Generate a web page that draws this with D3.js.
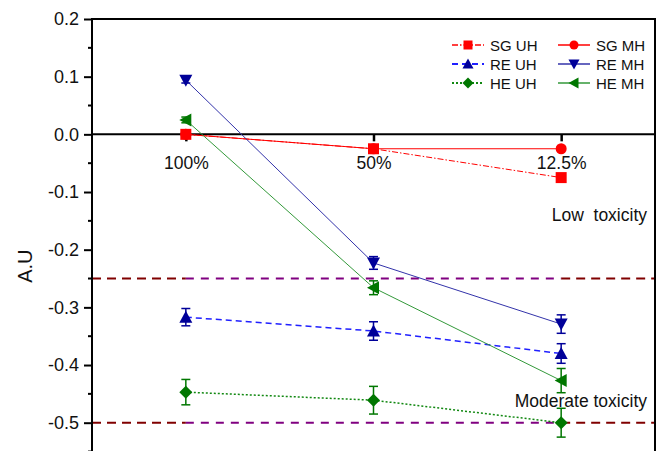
<!DOCTYPE html>
<html>
<head>
<meta charset="utf-8">
<script src="https://cdn.jsdelivr.net/npm/d3@7"></script>
<style>
  html, body { margin: 0; padding: 0; background: #fff; }
  svg { display: block; font-family: Arial, "Liberation Sans", sans-serif; }
</style>
</head>
<body>
<svg id="chart" width="664" height="451"></svg>
<script>
// Dilution levels on the x axis
const categories = ["100%", "50%", "12.5%"];

// Mean responses (A.U) and their error half-widths
const sgUH = [0.0, -0.025, -0.075];
const sgUHErr = [0, 0, 0];
const sgMH = [0.0, -0.025, -0.025];
const sgMHErr = [0, 0, 0];
const reUH = [-0.317, -0.341, -0.380];
const reUHErr = [0.015, 0.016, 0.017];
const reMH = [0.094, -0.223, -0.329];
const reMHErr = [0.005, 0.011, 0.016];
const heUH = [-0.447, -0.461, -0.500];
const heUHErr = [0.022, 0.024, 0.025];
const heMH = [0.025, -0.266, -0.427];
const heMHErr = [0.005, 0.012, 0.021];

// Axis ticks and toxicity thresholds
const yTicks = [0.2, 0.1, 0.0, -0.1, -0.2, -0.3, -0.4, -0.5];
const yMinorTicks = [0.15, 0.05, -0.05, -0.15, -0.25, -0.35, -0.45, -0.55];
const thresholds = [-0.25, -0.5];
const zoneLabels = ["Low  toxicity", "Moderate toxicity"];
const zoneLabelValues = [-0.151, -0.472];

const series = [
  { name: "SG UH", values: sgUH, err: sgUHErr, line: "#ff0000", mark: "#ff0000", dash: "6,2,1.5,2", width: 1, symbol: "square" },
  { name: "SG MH", values: sgMH, err: sgMHErr, line: "#ff0000", mark: "#ff0000", dash: null, width: 1, symbol: "circle" },
  { name: "RE UH", values: reUH, err: reUHErr, line: "#2020ff", mark: "#000099", dash: "6,4", width: 1.5, symbol: "triUp" },
  { name: "RE MH", values: reMH, err: reMHErr, line: "#3333aa", mark: "#000099", dash: null, width: 1, symbol: "triDown" },
  { name: "HE UH", values: heUH, err: heUHErr, line: "#118811", mark: "#007700", dash: "2,2", width: 1.5, symbol: "diamond" },
  { name: "HE MH", values: heMH, err: heMHErr, line: "#33993a", mark: "#007700", dash: null, width: 1, symbol: "triLeft" }
];

const FONT = "Arial, 'Liberation Sans', sans-serif";
const svg = d3.select("#chart");
const plotLeft = 92, plotRight = 655, plotTop = 19;

const x = d3.scalePoint().domain(categories).range([plotLeft, plotRight]).padding(0.5);
const y = d3.scaleLinear().domain([-0.5, 0.2]).range([422.7, plotTop]);

// Marker shapes, centred on the origin
function symbolPath(kind, s) {
  const h = s / 2;
  switch (kind) {
    case "square": return `M${-h},${-h}H${h}V${h}H${-h}Z`;
    case "circle": return d3.symbol().type(d3.symbolCircle).size(Math.PI * h * h)();
    case "triUp": return `M0,${-h - 1}L${h + 1},${h}L${-h - 1},${h}Z`;
    case "triDown": return `M0,${h + 1}L${h + 1},${-h}L${-h - 1},${-h}Z`;
    case "triLeft": return `M${-h - 1},0L${h},${-h - 1}L${h},${h + 1}Z`;
    case "diamond": return `M0,${-h - 1}L${h + 1},0L0,${h + 1}L${-h - 1},0Z`;
  }
}

// Threshold lines: dark red outside the sampled range, purple between the outer categories
thresholds.forEach(t => {
  const x0 = x(categories[0]), x1 = x(categories[categories.length - 1]);
  [[plotLeft, x0], [x1, plotRight]].forEach(([a, b]) => {
    svg.append("line")
      .attr("x1", a).attr("x2", b).attr("y1", y(t)).attr("y2", y(t))
      .attr("stroke", "#800000").attr("stroke-width", 2).attr("stroke-dasharray", "9,6");
  });
  svg.append("line")
    .attr("x1", x0).attr("x2", x1).attr("y1", y(t)).attr("y2", y(t))
    .attr("stroke", "#800080").attr("stroke-width", 2).attr("stroke-dasharray", "8,7");
});

// Frame: left, top and right edges
svg.append("path")
  .attr("d", `M${plotLeft},451V${plotTop}H${plotRight}V451`)
  .attr("fill", "none").attr("stroke", "#000").attr("stroke-width", 2);

// Y axis with major and minor ticks
const yAxis = d3.axisLeft(y).tickValues(yTicks).tickSize(8).tickPadding(5)
  .tickFormat(d => d3.format(".1f")(d).replace("−", "-"));
const gy = svg.append("g").attr("transform", `translate(${plotLeft},0)`).call(yAxis)
  .attr("font-family", FONT).attr("font-size", 18);
gy.select(".domain").remove();
gy.selectAll(".tick line").attr("stroke-width", 2);
gy.selectAll(".tick text").attr("fill", "#111");
svg.append("g").selectAll("line").data(yMinorTicks).join("line")
  .attr("x1", plotLeft - 4).attr("x2", plotLeft).attr("y1", d => y(d)).attr("y2", d => y(d))
  .attr("stroke", "#000").attr("stroke-width", 2);

// Zero line acting as the category axis
const xAxis = d3.axisBottom(x).tickSize(7).tickPadding(15);
const gx = svg.append("g").attr("transform", `translate(0,${y(0)})`).call(xAxis)
  .attr("font-family", FONT).attr("font-size", 17.5);
gx.select(".domain").remove();
gx.selectAll(".tick line").attr("stroke-width", 2.5);
gx.selectAll(".tick text").attr("fill", "#111");
svg.append("line")
  .attr("x1", plotLeft).attr("x2", plotRight).attr("y1", y(0)).attr("y2", y(0))
  .attr("stroke", "#000").attr("stroke-width", 2);

// Y label
svg.append("text")
  .attr("transform", `translate(32,${(y(-0.2) + y(-0.25)) / 2 + 2}) rotate(-90)`)
  .attr("text-anchor", "middle").attr("font-size", 20).attr("fill", "#111")
  .text("A.U");

// Zone labels
svg.selectAll(".zone").data(zoneLabels).join("text")
  .attr("class", "zone")
  .attr("x", 647).attr("y", (d, i) => y(zoneLabelValues[i]))
  .attr("text-anchor", "end").attr("font-size", 17.5).attr("fill", "#111")
  .style("white-space", "pre")
  .text(d => d);

// Series lines
const line = d3.line().x((d, i) => x(categories[i])).y(d => y(d));
series.forEach(s => {
  svg.append("path")
    .datum(s.values)
    .attr("d", line)
    .attr("fill", "none")
    .attr("stroke", s.line)
    .attr("stroke-width", s.width)
    .attr("stroke-dasharray", s.dash);
});

// Error bars and markers
series.forEach(s => {
  const g = svg.append("g");
  s.values.forEach((v, i) => {
    const cx = x(categories[i]);
    const e = s.err[i];
    if (e > 0) {
      g.append("line").attr("x1", cx).attr("x2", cx).attr("y1", y(v + e)).attr("y2", y(v - e))
        .attr("stroke", s.mark).attr("stroke-width", 1.5);
      [v + e, v - e].forEach(w => {
        g.append("line").attr("x1", cx - 4.5).attr("x2", cx + 4.5).attr("y1", y(w)).attr("y2", y(w))
          .attr("stroke", s.mark).attr("stroke-width", 1.5);
      });
    }
    g.append("path")
      .attr("transform", `translate(${cx},${y(v)})`)
      .attr("d", symbolPath(s.symbol, 11))
      .attr("fill", s.mark);
  });
});

// Legend: two columns, three rows
const legend = svg.append("g");
series.forEach((s, i) => {
  const col = i % 2, row = Math.floor(i / 2);
  const lx = col === 0 ? 452 : 558;
  const ly = 45 + row * 19;
  legend.append("line")
    .attr("x1", lx).attr("x2", lx + 32).attr("y1", ly).attr("y2", ly)
    .attr("stroke", s.line).attr("stroke-width", s.width + 0.5)
    .attr("stroke-dasharray", s.dash);
  legend.append("path")
    .attr("transform", `translate(${lx + 16},${ly})`)
    .attr("d", symbolPath(s.symbol, 9))
    .attr("fill", s.mark);
  legend.append("text")
    .attr("x", lx + 38).attr("y", ly + 5.5)
    .attr("font-size", 15).attr("fill", "#111")
    .text(s.name);
});
</script>
</body>
</html>
